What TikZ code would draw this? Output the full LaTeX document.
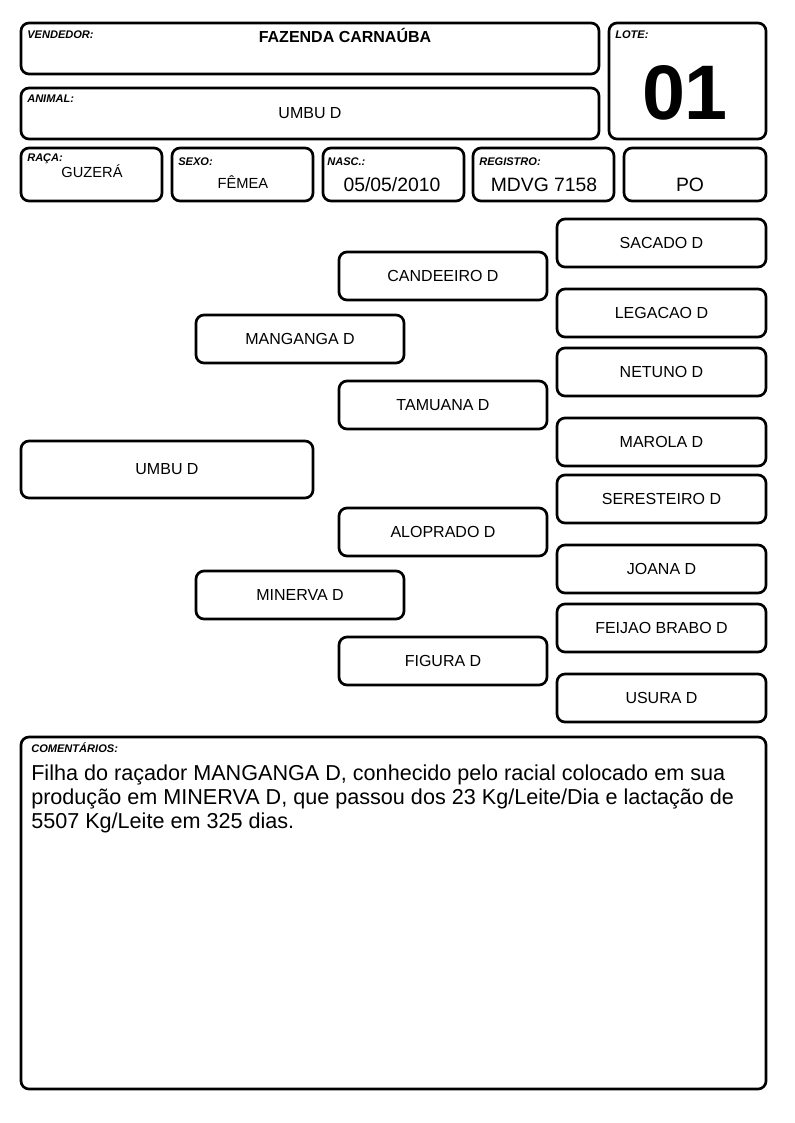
\documentclass[tikz,border=0pt]{standalone}
\usepackage{fontspec}
\setmainfont{Liberation Sans}
\usepackage{tikz}
\usetikzlibrary{calc}
\newcommand{\caixa}[6]{
	\draw[moldura] (#2,#3) rectangle (#4,#5);
	\node[nome] (#1) at ($(#2,#3)!0.5!(#4,#5)$) {#6};
}
\newcommand{\campo}[8]{
	\draw[moldura] (#2,#3) rectangle (#4,#5);
	\node[rotulo] (#1) at ($(#2,#3)+(#7,#8)$) {#6};
}

\begin{document}
\begin{tikzpicture}[x=0.75pt,y=-0.75pt,
	moldura/.style={line width=2pt, rounded corners=6pt},
	nome/.style={font=\fontsize{12}{14}\selectfont, inner sep=0pt},
	rotulo/.style={font=\fontsize{8.3}{10}\selectfont\bfseries\itshape, anchor=base west, inner sep=0pt},
	valor/.style={font=\fontsize{12}{14}\selectfont, anchor=base, inner sep=0pt},
	grande/.style={font=\fontsize{14.5}{17}\selectfont, anchor=base, inner sep=0pt}]
	\useasboundingbox (0,0) rectangle (794,1123);

	% cabecalho
	\campo{vendedor}{21}{23}{599}{74}{VENDEDOR:}{6}{16}
	\campo{lote}{609}{23}{766}{139}{LOTE:}{6}{16}
	\campo{animal}{21}{88}{599}{139}{ANIMAL:}{6}{15}
	\campo{raca}{21}{148}{162}{201}{RAÇA:}{6}{14}
	\campo{sexo}{172}{148}{313}{201}{SEXO:}{6}{17.5}
	\campo{nasc}{323}{148}{464}{201}{NASC.:}{4}{17.5}
	\campo{registro}{473}{148}{614}{201}{REGISTRO:}{6}{17.5}
	\draw[moldura] (624,148) rectangle (766,201);

	\node[valor, font=\fontsize{12}{14}\selectfont\bfseries] (fazenda) at (345,43) {FAZENDA CARNAÚBA};
	\node[valor, font=\fontsize{58}{60}\selectfont\bfseries] (numlote) at (685,120) {01};
	\node[valor] (nomeanimal) at (310,119) {UMBU D};
	\node[valor, font=\fontsize{11}{13}\selectfont] (guzera) at (92,178) {GUZERÁ};
	\node[valor, font=\fontsize{11}{13}\selectfont] (femea) at (243,189) {FÊMEA};
	\node[grande] (data) at (392,192) {05/05/2010};
	\node[grande] (mdvg) at (544,192) {MDVG 7158};
	\node[grande] (po) at (690,192) {PO};

	% genealogia
	\caixa{umbu}{21}{441}{313}{498}{UMBU D}
	\caixa{manganga}{196}{315}{404}{363}{MANGANGA D}
	\caixa{minerva}{196}{571}{404}{619}{MINERVA D}
	\caixa{candeeiro}{339}{252}{547}{300}{CANDEEIRO D}
	\caixa{tamuana}{339}{381}{547}{429}{TAMUANA D}
	\caixa{aloprado}{339}{508}{547}{556}{ALOPRADO D}
	\caixa{figura}{339}{637}{547}{685}{FIGURA D}
	\caixa{sacado}{557}{219}{766}{267}{SACADO D}
	\caixa{legacao}{557}{289}{766}{337}{LEGACAO D}
	\caixa{netuno}{557}{348}{766}{396}{NETUNO D}
	\caixa{marola}{557}{418}{766}{466}{MAROLA D}
	\caixa{seresteiro}{557}{475}{766}{523}{SERESTEIRO D}
	\caixa{joana}{557}{545}{766}{593}{JOANA D}
	\caixa{feijao}{557}{604}{766}{652}{FEIJAO BRABO D}
	\caixa{usura}{557}{674}{766}{722}{USURA D}

	% comentarios
	\campo{comentarios}{21}{737}{766}{1089}{COMENTÁRIOS:}{10}{15.5}
	\node[anchor=north west, inner sep=0pt, align=left,
		font=\fontsize{16.2}{18}\selectfont] (texto) at (31,765)
		{Filha do raçador MANGANGA D, conhecido pelo racial colocado em sua\\
		produção em MINERVA D, que passou dos 23 Kg/Leite/Dia e lactação de\\
		5507 Kg/Leite em 325 dias.};
\end{tikzpicture}
\end{document}
